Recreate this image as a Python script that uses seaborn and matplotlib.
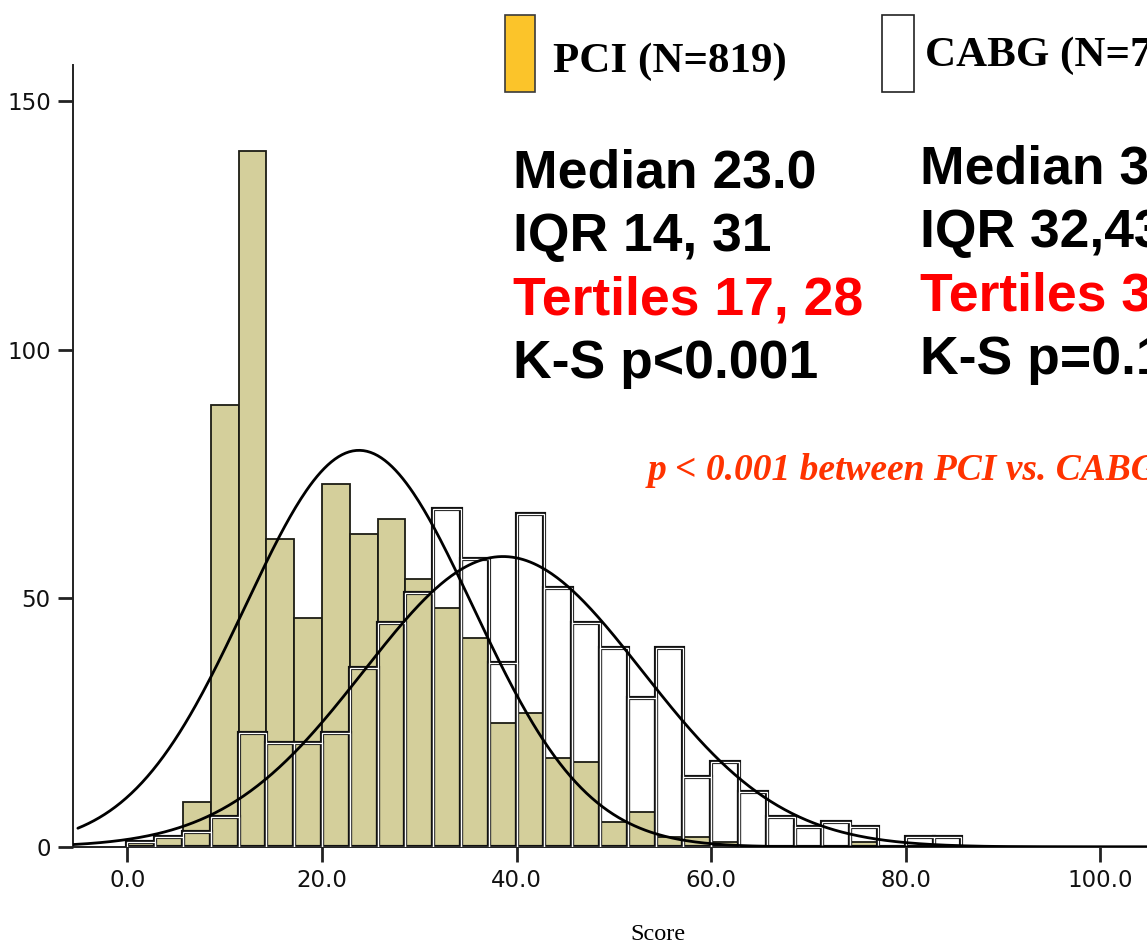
import numpy as np
import pandas as pd
import matplotlib
matplotlib.use("Agg")
import matplotlib.pyplot as plt
import seaborn as sns
from matplotlib.patches import Rectangle

# ---- data ---------------------------------------------------------------
bin_start = 0.0
bin_width = 20 / 7          # 7 bins per 20 score points

# counts per bin, starting at score 0
pci_counts = [1, 2, 9, 89, 140, 62, 46, 73, 63, 66, 54, 48, 42, 25, 27,
              18, 17, 5, 7, 2, 2, 1, 0, 0, 0, 0, 1, 0, 0, 0]
cabg_counts = [1, 2, 3, 6, 23, 21, 21, 23, 36, 45, 51, 68, 58, 37, 67,
               52, 45, 40, 30, 40, 14, 17, 11, 6, 4, 5, 4, 0, 2, 2]

n_pci = 819
n_cabg = 733

# fitted normal curves
pci_mean, pci_sd = 23.8, 11.7
cabg_mean, cabg_sd = 38.6, 14.3

x_ticks = [0, 20, 40, 60, 80, 100]
x_tick_labels = ["0.0", "20.0", "40.0", "60.0", "80.0", "100.0"]
y_ticks = [0, 50, 100, 150]
y_tick_labels = ["0", "50", "100", "150"]

pci_label = f"PCI (N={n_pci})"
cabg_label = f"CABG (N={n_cabg})"
pci_stats = ["Median 23.0", "IQR 14, 31", "Tertiles 17, 28", "K-S p<0.001"]
cabg_stats = ["Median 37.0", "IQR 32,43", "Tertiles 34, 41", "K-S p=0.12"]
stats_colors = ["black", "black", "#FF0000", "black"]
compare_text = "p < 0.001 between PCI vs. CABG"
x_label = "Score"

# ---- figure -------------------------------------------------------------
sns.set_style("white")
plt.rcParams["font.family"] = ["DejaVu Sans"]

W, H = 1147, 944
fig = plt.figure(figsize=(W / 100, H / 100), dpi=100)
fig.patch.set_facecolor("white")


def fx(px):
    return px / W


def fy(py):
    return 1 - py / H


ax = fig.add_axes([fx(73), fy(847), (W - 73) / W, (847 - 65) / H])

n_bins = len(pci_counts)
bin_end = bin_start + bin_width * n_bins
centers = bin_start + bin_width * (np.arange(n_bins) + 0.5)
df = pd.DataFrame({"score": centers, "pci": pci_counts, "cabg": cabg_counts})
hist_kw = dict(data=df, x="score", binwidth=bin_width,
               binrange=(bin_start, bin_end), ax=ax)

olive = "#D4CF9B"
sns.histplot(weights="pci", color=olive, edgecolor="#1c1c14", linewidth=1.3,
             alpha=1.0, zorder=2, **hist_kw)
sns.histplot(weights="cabg", fill=False, color="#111111", linewidth=3.0,
             zorder=3, **hist_kw)
sns.histplot(weights="cabg", fill=False, color="white", linewidth=0.9,
             zorder=3, **hist_kw)

xmin, xmax = -5.6, 104.8
xs_pci = np.linspace(-5.1, xmax, 600)
xs_cabg = np.linspace(xmin, xmax, 600)


def normal_curve(xs, n, mu, sd):
    return n * bin_width * np.exp(-0.5 * ((xs - mu) / sd) ** 2) / (sd * np.sqrt(2 * np.pi))


sns.lineplot(x=xs_pci, y=normal_curve(xs_pci, n_pci, pci_mean, pci_sd),
             color="black", linewidth=2.0, ax=ax, zorder=4)
sns.lineplot(x=xs_cabg, y=normal_curve(xs_cabg, n_cabg, cabg_mean, cabg_sd),
             color="black", linewidth=2.0, ax=ax, zorder=4)

ax.set_xlim(xmin, xmax)
ax.set_ylim(0, 157.3)
ax.set_xticks(x_ticks)
ax.set_xticklabels(x_tick_labels)
ax.set_yticks(y_ticks)
ax.set_yticklabels(y_tick_labels)
ax.set_xlabel("")
ax.set_ylabel("")
for side in ("top", "right"):
    ax.spines[side].set_visible(False)
for side in ("left", "bottom"):
    ax.spines[side].set_color("#222222")
    ax.spines[side].set_linewidth(1.4)
ax.tick_params(axis="both", which="major", bottom=True, left=True,
               direction="out", length=11, width=2.0, color="#222222",
               labelsize=16.5, labelcolor="#111111", pad=5)
ax.set_facecolor("white")

# ---- legend swatches and labels ----------------------------------------
fig.add_artist(Rectangle((fx(505), fy(92)), 30 / W, 77 / H, transform=fig.transFigure,
                         facecolor="#FBC42A", edgecolor="#3a3a3a", linewidth=1.2))
fig.add_artist(Rectangle((fx(882), fy(92)), 32 / W, 77 / H, transform=fig.transFigure,
                         facecolor="white", edgecolor="#222222", linewidth=1.2))
fig.text(fx(553), fy(72), pci_label, family="Liberation Serif", weight="bold",
         fontsize=31, va="baseline", ha="left", color="black")
fig.text(fx(925), fy(66), cabg_label, family="Liberation Serif", weight="bold",
         fontsize=31, va="baseline", ha="left", color="black")

# ---- summary statistics -------------------------------------------------
for i, (s, c) in enumerate(zip(pci_stats, stats_colors)):
    fig.text(fx(513), fy(187 + 63.7 * i), s, family="Liberation Sans",
             weight="bold", fontsize=38.5, va="baseline", ha="left", color=c)
for i, (s, c) in enumerate(zip(cabg_stats, stats_colors)):
    fig.text(fx(920), fy(183 + 63.7 * i), s, family="Liberation Sans",
             weight="bold", fontsize=38.5, va="baseline", ha="left", color=c)

fig.text(fx(648), fy(480), compare_text, family="Liberation Serif",
         weight="bold", style="italic", fontsize=27, va="baseline",
         ha="left", color="#FF3300")

fig.text(fx(658), fy(940), x_label, family="Liberation Serif", fontsize=17.5,
         va="baseline", ha="center", color="black")

fig.savefig("out.png", dpi=100, facecolor="white")
